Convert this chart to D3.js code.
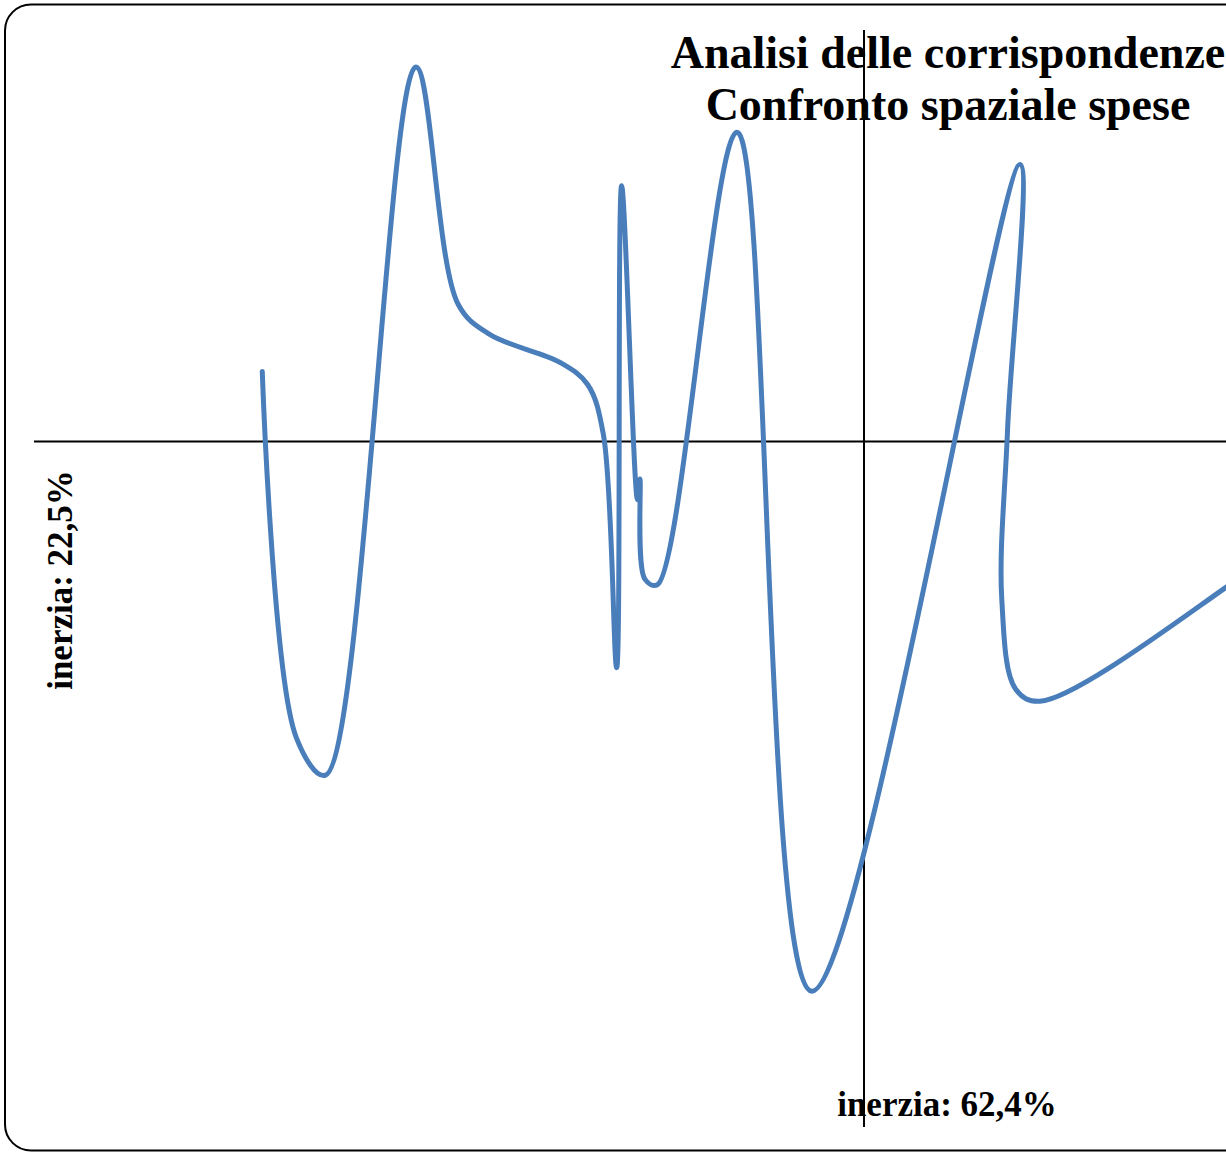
<!DOCTYPE html>
<html>
<head>
<meta charset="utf-8">
<script src="https://cdn.jsdelivr.net/npm/d3@7"></script>
<style>
  body { margin: 0; background: #fff; }
  svg { display: block; }
</style>
</head>
<body>
<div id="chart"></div>
<script>
// punti (coordinate fattoriali)
var xValues = [-0.725, -0.684, -0.649, -0.540, -0.489, -0.451, -0.366, -0.333, -0.314, -0.298, -0.292,
               -0.273, -0.270, -0.264, -0.249, -0.153, -0.063, 0.188, 0.173, 0.166, 0.183, 0.212, 0.436, 0.525];
var yValues = [0.102, -0.432, -0.487, 0.546, 0.200, 0.156, 0.115, 0.083, 0.010, -0.330, 0.373,
               -0.085, -0.055, -0.201, -0.209, 0.451, -0.802, 0.404, 0.018, -0.230, -0.362, -0.379, -0.213, -0.128];
var titleLines = ["Analisi delle corrispondenze", "Confronto spaziale spese"];
var xLabel = "inerzia: 62,4%";
var yLabel = "inerzia: 22,5%";
var xDomain = [-1, 1];
var yDomain = [-1, 0.6];

var width = 1226, height = 1153;

var svg = d3.select("#chart").append("svg")
    .attr("width", width)
    .attr("height", height);

var x = d3.scaleLinear().domain(xDomain).range([34, 1694]);
var y = d3.scaleLinear().domain(yDomain).range([1127, 30]);

// cornice
svg.append("rect")
    .attr("x", 5).attr("y", 4.5)
    .attr("width", 1400).attr("height", 1146)
    .attr("rx", 26).attr("ry", 26)
    .style("fill", "none")
    .style("stroke", "black")
    .style("stroke-width", 2);

// assi
svg.append("line")
    .attr("x1", x(xDomain[0])).attr("x2", x(xDomain[1]))
    .attr("y1", y(0)).attr("y2", y(0))
    .style("stroke", "black").style("stroke-width", 2);
svg.append("line")
    .attr("x1", x(0)).attr("x2", x(0))
    .attr("y1", y(yDomain[1])).attr("y2", y(yDomain[0]))
    .style("stroke", "black").style("stroke-width", 2);

var points = xValues.map(function(d, i){ return [d, yValues[i]]; });

var line = d3.line()
    .x(function(d){ return x(d[0]); })
    .y(function(d){ return y(d[1]); })
    .curve(d3.curveCatmullRom.alpha(0.5));

svg.append("path")
    .datum(points)
    .attr("d", line)
    .style("fill", "none")
    .style("stroke", "#4a7ebb")
    .style("stroke-width", 5)
    .style("stroke-linejoin", "round")
    .style("stroke-linecap", "round");

// titolo
svg.selectAll(".title")
    .data(titleLines)
    .enter().append("text")
    .attr("class", "title")
    .attr("x", 948)
    .attr("y", function(d, i){ return 68 + i * 52; })
    .attr("text-anchor", "middle")
    .style("font-family", "'Liberation Serif', 'Times New Roman', serif")
    .style("font-weight", "bold")
    .style("font-size", "46px")
    .text(function(d){ return d; });

svg.append("text")
    .attr("x", 947)
    .attr("y", 1116)
    .attr("text-anchor", "middle")
    .style("font-family", "'Liberation Serif', 'Times New Roman', serif")
    .style("font-weight", "bold")
    .style("font-size", "35px")
    .text(xLabel);

svg.append("text")
    .attr("transform", "translate(72,580) rotate(-90)")
    .attr("text-anchor", "middle")
    .style("font-family", "'Liberation Serif', 'Times New Roman', serif")
    .style("font-weight", "bold")
    .style("font-size", "35px")
    .text(yLabel);
</script>
</body>
</html>
